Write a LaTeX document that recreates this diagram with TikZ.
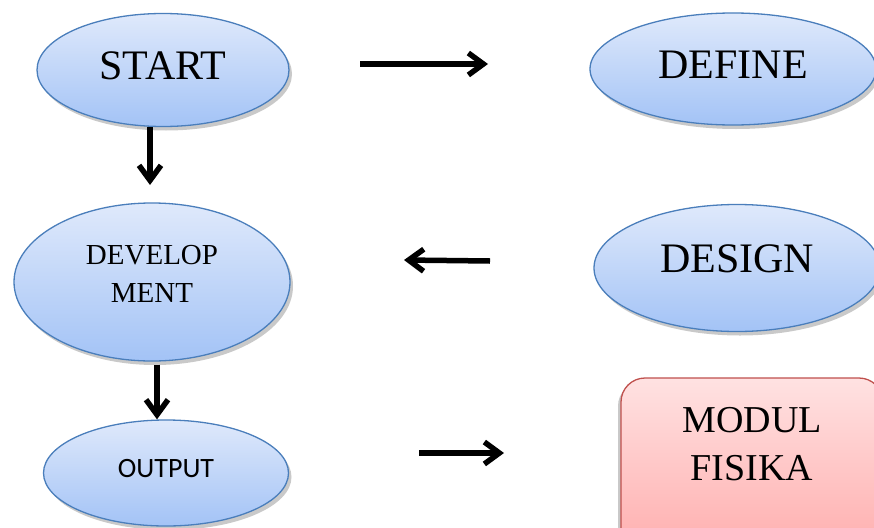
\documentclass[tikz,border=0pt]{standalone}
\usepackage{fontspec}
\setmainfont{Liberation Serif}
\newfontfamily\calib{Carlito}
\usetikzlibrary{arrows.meta,shapes.geometric,shadows}
\definecolor{bluetop}{HTML}{DFE9FB}
\definecolor{bluebot}{HTML}{A3C3F6}
\definecolor{blueline}{HTML}{4A7EBB}
\definecolor{redtop}{HTML}{FFE2E2}
\definecolor{redbot}{HTML}{FFA6A6}
\definecolor{redline}{HTML}{C0504D}
\newcommand{\lift}[1]{\rule[-#1]{0pt}{0pt}}
\tikzset{
  oval/.style={ellipse, draw=blueline, line width=1.3pt, inner sep=0pt,
    top color=bluetop, bottom color=bluebot, align=center,
    drop shadow={shadow xshift=3pt, shadow yshift=-4pt, opacity=0.35, fill=black!60}},
  modbox/.style={rectangle, rounded corners=24pt, draw=redline, line width=1.3pt,
    top color=redtop, bottom color=redbot, align=center, inner sep=0pt,
    drop shadow={shadow xshift=-3pt, shadow yshift=-4pt, opacity=0.35, fill=black!60}},
  flow/.style={line width=5.5pt, -{Straight Barb[length=15pt,width=22pt]}}
}
\begin{document}
\begin{tikzpicture}[x=1pt,y=-1pt]
\clip (0,0) rectangle (874,527);
\fill[white] (0,0) rectangle (874,527);
\node[oval, minimum width=252pt, minimum height=113pt,
  font=\fontsize{42}{48}\selectfont] (start) at (163,70) {START\lift{8pt}};
\node[oval, minimum width=286pt, minimum height=112pt,
  font=\fontsize{42}{48}\selectfont] (define) at (733,69) {DEFINE\lift{8pt}};
\node[oval, minimum width=276pt, minimum height=158pt,
  font=\fontsize{29}{38}\selectfont] (devel) at (152,282) {DEVELOP\\MENT\lift{16pt}};
\node[oval, minimum width=286pt, minimum height=127pt,
  font=\fontsize{42}{48}\selectfont] (design) at (737,268) {DESIGN\lift{18pt}};
\node[oval, minimum width=245pt, minimum height=106pt,
  font=\calib\fontsize{28}{32}\selectfont] (output) at (166,473) {OUTPUT\lift{10pt}};
\node[modbox, minimum width=262pt, minimum height=200pt,
  font=\fontsize{38}{48}\selectfont] (modul) at (752,478) {MODUL\\FISIKA\lift{69pt}};
% arrow end points
\coordinate (a1s) at (360,64);
\coordinate (a1e) at (488,64);
\coordinate (a2e) at (150,185);
\coordinate (a3s) at (490,261);
\coordinate (a3e) at (404,260);
\coordinate (a5s) at (419,453);
\coordinate (a5e) at (504,453);
\draw[flow] (a1s) -- (a1e);
\draw[flow] (start.south -| a2e) -- (a2e);
\draw[flow] (a3s) -- (a3e);
\draw[flow] ([xshift=5pt,yshift=-3pt]devel.south) -- ([xshift=-9pt]output.north);
\draw[flow] (a5s) -- (a5e);
\end{tikzpicture}
\end{document}
